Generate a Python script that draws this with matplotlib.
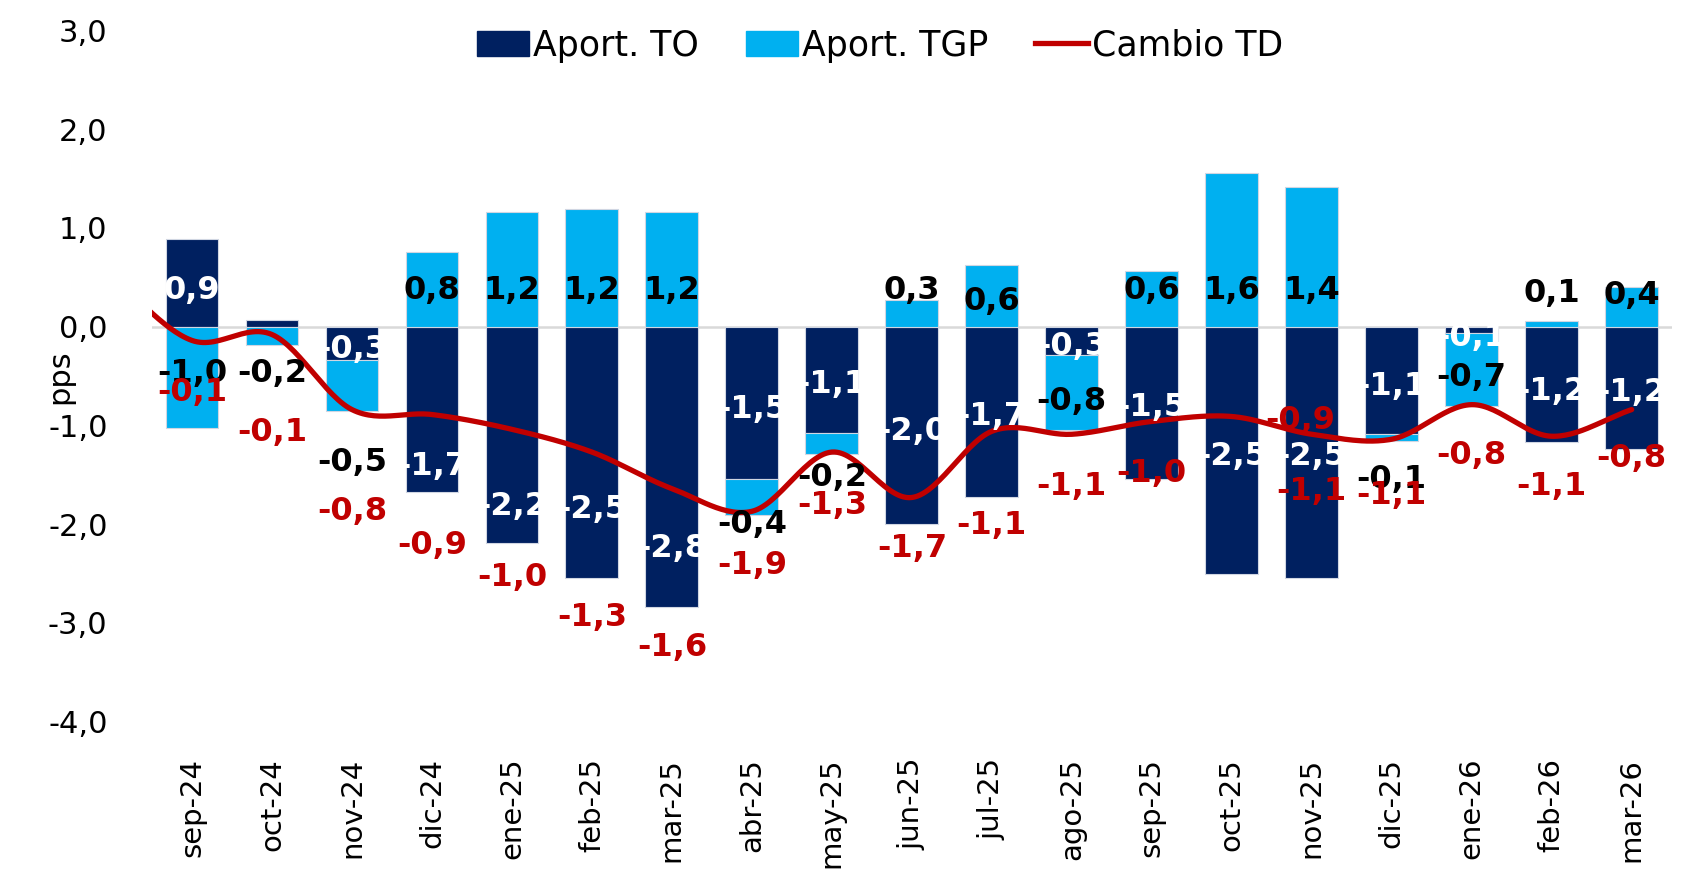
import numpy as np
import matplotlib.pyplot as plt
from matplotlib.patches import Patch
from matplotlib.lines import Line2D

plt.rcParams['font.family'] = ['DejaVu Sans']

# datos (pps)
meses = ['sep-24', 'oct-24', 'nov-24', 'dic-24', 'ene-25', 'feb-25', 'mar-25', 'abr-25', 'may-25',
         'jun-25', 'jul-25', 'ago-25', 'sep-25', 'oct-25', 'nov-25', 'dic-25', 'ene-26', 'feb-26', 'mar-26']
aport_to = [0.89, 0.07, -0.34, -1.67, -2.19, -2.54, -2.84, -1.54, -1.08, -2.00, -1.72, -0.29, -1.54,
            -2.50, -2.54, -1.09, -0.06, -1.17, -1.24]
aport_tgp = [-1.03, -0.19, -0.51, 0.76, 1.16, 1.19, 1.16, -0.37, -0.21, 0.27, 0.62, -0.76, 0.56,
             1.56, 1.41, -0.07, -0.74, 0.06, 0.40]
cambio_td = [-0.14, -0.08, -0.84, -0.89, -1.04, -1.27, -1.64, -1.87, -1.27, -1.73, -1.06, -1.09, -0.96,
             -0.91, -1.09, -1.14, -0.79, -1.11, -0.84]
td_prev = 0.5  # ago-24, solo se ve el tramo inicial de la curva

# posicion de etiquetas (como en el original)
to_lab_y = [0.37, 0.37, -0.23, -1.42, -1.82, -1.85, -2.25, -0.84, -0.59, -1.06, -0.91, -0.20, -0.82,
            -1.31, -1.32, -0.61, -0.11, -0.66, -0.67]
tgp_lab_y = [-0.47, -0.47, -1.38, 0.37, 0.37, 0.37, 0.37, -2.0, -1.53, 0.37, 0.25, -0.76, 0.37,
             0.37, 0.37, -1.55, -0.52, 0.34, 0.32]
td_lab_y = [-0.67, -1.07, -1.87, -2.22, -2.54, -2.95, -3.25, -2.42, -1.81, -2.25, -2.01, -1.62, -1.49,
            -0.95, -1.67, -1.71, -1.30, -1.62, -1.34]
td_lab_dx = [0] * 13 + [0.85] + [0] * 5

C_TO = '#002060'
C_TGP = '#00B0F0'
C_TD = '#C00000'


def fmt(v):
    return f"{v:.1f}".replace('.', ',')


def catmull(xs, ys, n=30):
    """curva suavizada tipo Excel"""
    xs = np.asarray(xs, float)
    ys = np.asarray(ys, float)
    px = np.concatenate([[2 * xs[0] - xs[1]], xs, [2 * xs[-1] - xs[-2]]])
    py = np.concatenate([[2 * ys[0] - ys[1]], ys, [2 * ys[-1] - ys[-2]]])
    ox, oy = [], []
    t = np.linspace(0, 1, n)
    for i in range(1, len(px) - 2):
        p0, p1, p2, p3 = py[i - 1], py[i], py[i + 1], py[i + 2]
        m1 = (p2 - p0) / 2
        m2 = (p3 - p1) / 2
        h00 = 2 * t**3 - 3 * t**2 + 1
        h10 = t**3 - 2 * t**2 + t
        h01 = -2 * t**3 + 3 * t**2
        h11 = t**3 - t**2
        oy.append(h00 * p1 + h10 * m1 + h01 * p2 + h11 * m2)
        ox.append(px[i] + t * (px[i + 1] - px[i]))
    return np.concatenate(ox), np.concatenate(oy)


fig = plt.figure(figsize=(16.98, 8.91), dpi=100)
ax = fig.add_axes([0.0895, 0.19, 0.895, 0.776])

x = np.arange(len(meses))
to = np.array(aport_to)
tgp = np.array(aport_tgp)
bottom_tgp = np.where(np.sign(to) == np.sign(tgp), to, 0)

w = 0.66
ax.bar(x, to, width=w, color=C_TO, edgecolor='#d0d6e2', linewidth=0.8, zorder=2)
ax.bar(x, tgp, width=w, bottom=bottom_tgp, color=C_TGP, edgecolor='#d0d6e2', linewidth=0.8, zorder=2)
ax.axhline(0, color='#d9d9d9', lw=1.8, zorder=1)

lx, ly = catmull(np.arange(-1, len(meses)), [td_prev] + cambio_td)
ax.plot(lx, ly, color=C_TD, lw=3.8, zorder=3, solid_capstyle='round')

fs = 23
for i in range(len(meses)):
    ax.text(x[i], to_lab_y[i], fmt(aport_to[i]), color='white', fontsize=fs, fontweight='bold',
            ha='center', va='center', zorder=4)
    ax.text(x[i], tgp_lab_y[i], fmt(aport_tgp[i]), color='black', fontsize=fs, fontweight='bold',
            ha='center', va='center', zorder=4)
    ax.text(x[i] + td_lab_dx[i], td_lab_y[i], fmt(cambio_td[i]), color=C_TD, fontsize=fs,
            fontweight='bold', ha='center', va='center', zorder=5)

ax.set_xlim(-0.5, len(meses) - 0.5)
ax.set_ylim(-4, 3)
ax.set_yticks(np.arange(-4, 3.1, 1))
ax.set_yticklabels([fmt(v) for v in np.arange(-4, 3.1, 1)])
ax.set_xticks(x)
ax.set_xticklabels(meses, rotation=90)
ax.tick_params(axis='y', length=0, pad=32, labelsize=22)
ax.tick_params(axis='x', length=0, pad=26, labelsize=21)
for s in ax.spines.values():
    s.set_visible(False)

ax.set_ylabel('pps', fontsize=22)
ax.yaxis.set_label_coords(-0.051, 0.499)

handles = [Patch(color=C_TO), Patch(color=C_TGP), Line2D([0], [0], color=C_TD, lw=3.8)]
ax.legend(handles, ['Aport. TO', 'Aport. TGP', 'Cambio TD'], loc='center', ncol=3,
          bbox_to_anchor=(0.479, 0.978), frameon=False, fontsize=25, handlelength=1.5,
          handleheight=0.72, handletextpad=0.12, columnspacing=1.35)

fig.savefig('out.png', dpi=100)
